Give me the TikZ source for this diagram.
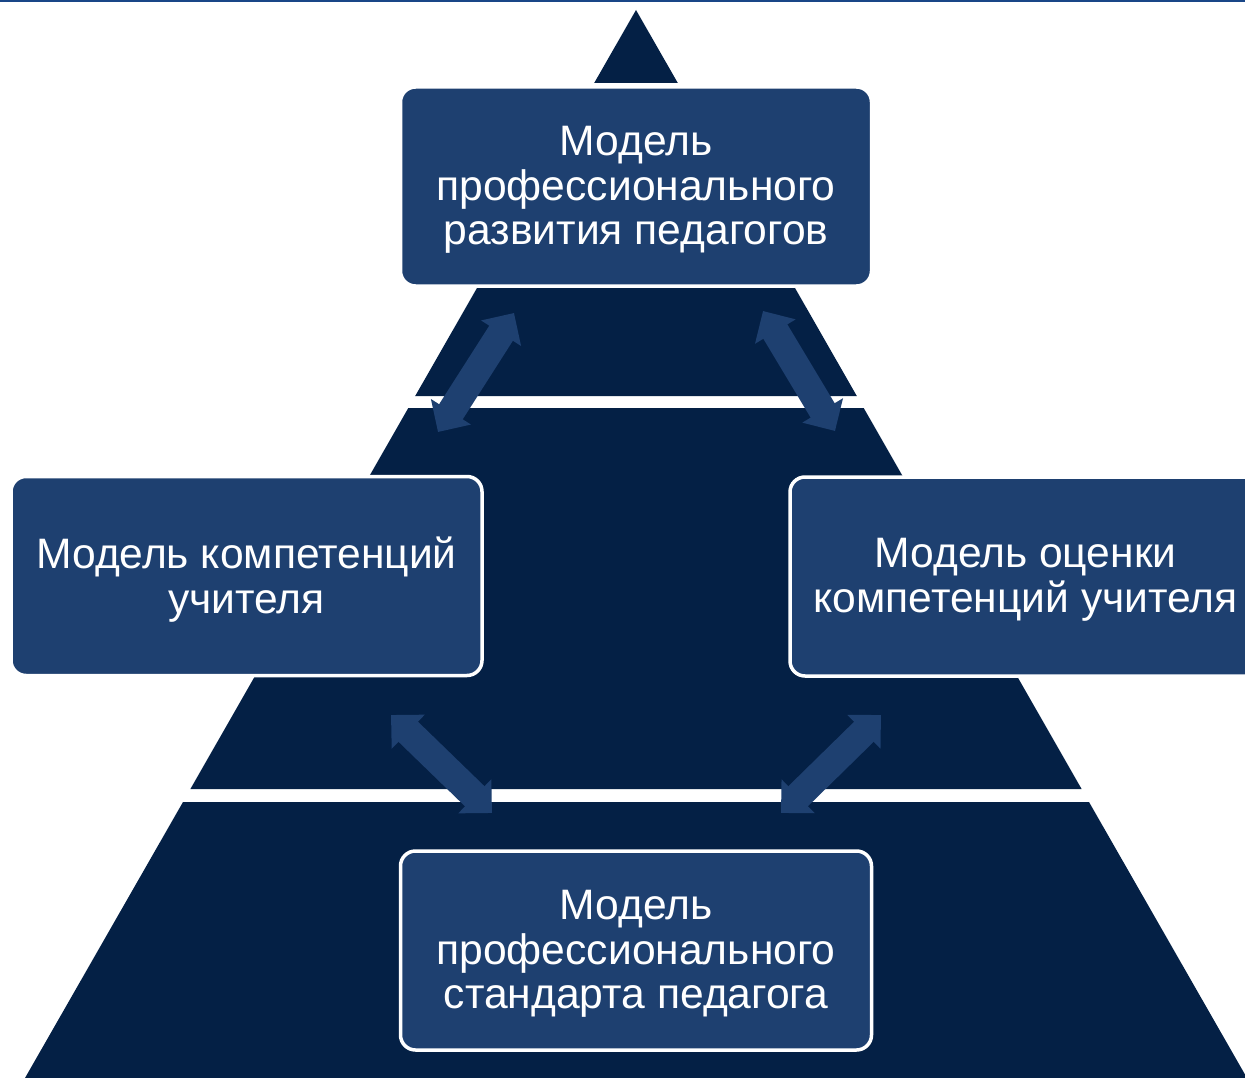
\documentclass[tikz,border=0pt]{standalone}
\usepackage{fontspec}
\setmainfont{Liberation Sans}
\usetikzlibrary{arrows.meta}
\definecolor{pyr}{RGB}{4,32,69}
\definecolor{boxfill}{RGB}{30,64,112}
\definecolor{topline}{RGB}{25,70,135}
\tikzset{
  layer/.style={fill=pyr},
  modelbox/.style={rounded corners=15pt, fill=boxfill, draw=white, line width=3.5pt,
    minimum width=471pt, minimum height=199pt, inner sep=0pt},
  boxtext/.style={inner sep=0pt, align=center, yshift=-3.5pt,
    text=white, font=\fontsize{42.6}{44.5}\selectfont},
  blockarrow/.style={draw=boxfill, line width=28pt,
    {Triangle[length=24pt,width=46pt]}-{Triangle[length=24pt,width=46pt]}}
}
\begin{document}
\begin{tikzpicture}[x=1pt,y=-1pt]
\clip (0,0) rectangle (1245,1078);
\fill[white] (0,0) rectangle (1245,1078);
\fill[topline] (0,0) rectangle (1245,2);
% pyramid layers (apex 636,10; half-width = 0.572*(y-10))
\fill[layer] (636,10) -- (677.8,83) -- (594.2,83) -- cycle;
\fill[layer] (587.4,95) -- (684.6,95) -- (856.8,396) -- (415.2,396) -- cycle;
\fill[layer] (408.3,408) -- (863.7,408) -- (1081.6,789) -- (190.4,789) -- cycle;
\fill[layer] (183,802) -- (1089,802) -- (1247,1078) -- (25,1078) -- cycle;
% arrow end points
\coordinate (a1s) at (438,432);
\coordinate (a1e) at (514,313);
\coordinate (a2s) at (763,311);
\coordinate (a2e) at (835,431);
\coordinate (a3s) at (391,715);
\coordinate (a3e) at (492,813);
\coordinate (a4s) at (881,715);
\coordinate (a4e) at (781,813);
\draw[blockarrow] (a1s) -- (a1e);
\draw[blockarrow] (a2s) -- (a2e);
\draw[blockarrow] (a3s) -- (a3e);
\draw[blockarrow] (a4s) -- (a4e);
% boxes
\node[modelbox] (top) at (636,186.5) {};
\node[boxtext] (toptext) at (top.center) {Модель\\профессионального\\развития педагогов};
\node[modelbox] (left) at (246.5,576) {};
\node[boxtext] (lefttext) at (left.center) {Модель компетенций\\учителя};
\node[modelbox] (right) at (1025.5,576.5) {};
\node[boxtext] (righttext) at (right.center) {Модель оценки\\компетенций учителя};
\node[modelbox] (bottom) at (636,950.5) {};
\node[boxtext] (bottomtext) at (bottom.center) {Модель\\профессионального\\стандарта педагога};
\end{tikzpicture}
\end{document}
